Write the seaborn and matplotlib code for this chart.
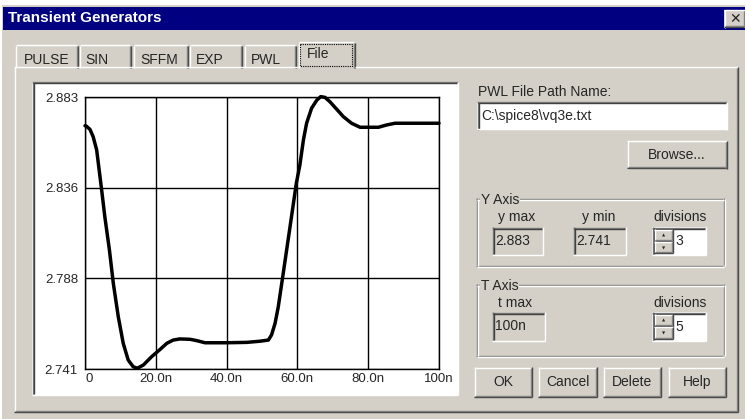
import numpy as np
import pandas as pd
import matplotlib
matplotlib.use('Agg')
import matplotlib.pyplot as plt
import matplotlib.patches as mpatches
import seaborn as sns

# waveform (time in ns, voltage in V)
t_ns = [0, 0.3, 1.4, 2.3, 3.3, 4.0, 4.7, 5.6, 6.9, 8.0, 9.4, 10.8, 12.2, 13.6,
        14.8, 16.5, 18.8, 21.2, 23.1, 24.9, 26.8, 29.7, 31.6, 33.9, 40.0, 45.7,
        49.4, 51.8, 52.7, 53.7, 54.6, 56.0, 57.9, 59.7, 60.7, 61.7, 62.6, 64.0,
        65.5, 66.6, 67.8, 69.2, 71.1, 73.0, 75.3, 77.7, 82.9, 85.2, 87.6, 100]
volts = [2.868, 2.8679, 2.8661, 2.8623, 2.8553, 2.8449, 2.8345, 2.8205, 2.8031,
         2.7857, 2.7683, 2.7544, 2.7457, 2.7422, 2.7414, 2.7431, 2.7474, 2.7512,
         2.7544, 2.7561, 2.7567, 2.7565, 2.7558, 2.7547, 2.7547, 2.7549, 2.7555,
         2.7561, 2.7588, 2.7649, 2.7735, 2.791, 2.815, 2.838, 2.8475, 2.8606,
         2.8693, 2.8771, 2.8814, 2.8832, 2.8828, 2.8805, 2.8766, 2.8727, 2.8693,
         2.8672, 2.8672, 2.8684, 2.8693, 2.8693]

y_ticks = [2.741, 2.7883, 2.8357, 2.883]
y_labels = ['2.741', '2.788', '2.836', '2.883']
x_ticks = [0, 20, 40, 60, 80, 100]
x_labels = ['0', '20.0n', '40.0n', '60.0n', '80.0n', '100n']
tab_names = ['PULSE', 'SIN', 'SFFM', 'EXP', 'PWL', 'File']

df = pd.DataFrame({'t': t_ns, 'v': volts})

sns.set_style('white')
plt.rcParams['font.family'] = ['Liberation Sans', 'DejaVu Sans']

FACE = '#d4d0c8'
SHADOW = '#808080'
DARK = '#404040'
FS = 10

W, H = 745, 419
fig = plt.figure(figsize=(W / 100, H / 100), dpi=100)
fig.patch.set_facecolor('white')

# background axes in pixel coords (y down)
bg = fig.add_axes([0, 0, 1, 1])
bg.set_xlim(0, W)
bg.set_ylim(H, 0)
bg.axis('off')


def rect(x0, y0, x1, y1, color, z=1):
    bg.add_patch(mpatches.Rectangle((x0, y0), x1 - x0, y1 - y0, facecolor=color,
                                    edgecolor='none', zorder=z))


def hline(x0, x1, y, color, z=3):
    bg.plot([x0, x1], [y, y], color=color, lw=1, solid_capstyle='butt', zorder=z)


def vline(x, y0, y1, color, z=3):
    bg.plot([x, x], [y0, y1], color=color, lw=1, solid_capstyle='butt', zorder=z)


def raised(x0, y0, x1, y1, fill=FACE):
    rect(x0, y0, x1, y1, fill, 2)
    hline(x0, x1, y0 + 0.5, 'white'); vline(x0 + 0.5, y0, y1, 'white')
    hline(x0, x1, y1 - 0.5, DARK); vline(x1 - 0.5, y0, y1, DARK)
    hline(x0 + 1, x1 - 1, y1 - 1.5, SHADOW); vline(x1 - 1.5, y0 + 1, y1 - 1, SHADOW)


def sunken(x0, y0, x1, y1, fill='white'):
    rect(x0, y0, x1, y1, fill, 2)
    hline(x0, x1, y0 + 0.5, SHADOW); vline(x0 + 0.5, y0, y1, SHADOW)
    hline(x0 + 1, x1 - 1, y0 + 1.5, DARK); vline(x0 + 1.5, y0 + 1, y1 - 1, DARK)
    hline(x0, x1, y1 - 0.5, 'white'); vline(x1 - 0.5, y0, y1, 'white')


def group(x0, y0, x1, y1, label):
    for off, c in [(0, SHADOW), (1, 'white')]:
        hline(x0 + off, x1 + off, y0 + 0.5 + off, c)
        hline(x0 + off, x1 + off, y1 + 0.5 + off, c)
        vline(x0 + 0.5 + off, y0 + off, y1 + off, c)
        vline(x1 + 0.5 + off, y0 + off, y1 + off, c)
    bg.text(x0 + 5, y0 + 2, label, fontsize=FS, ha='left', va='center', zorder=5,
            bbox=dict(facecolor=FACE, edgecolor='none', pad=0.5))


def text(x, y, s, ha='center', **kw):
    kw.setdefault('fontsize', FS)
    bg.text(x, y, s, ha=ha, va='center', zorder=6, **kw)


# dialog body and title bar
rect(2, 5, W, H, FACE, 0)
rect(3, 7, W, 30, '#000080', 1)
bg.text(8, 18.5, 'Transient Generators', fontsize=11, fontweight='bold', color='white',
        ha='left', va='center', zorder=6)
raised(724, 10, 745, 28)
text(735, 19, '✕', fontweight='bold', family=['DejaVu Sans'])

# tab strip
tab_x = [(15, 78), (79, 131), (133, 188), (189, 242), (244, 296), (298, 355)]
tab_cx = [47, 97, 159, 210, 266, 318]
for i, (name, (a, b)) in enumerate(zip(tab_names, tab_x)):
    top = 42 if name == 'File' else 45
    rect(a, top, b, 68, FACE, 2)
    hline(a + 1, b - 1, top + 0.5, 'white')
    vline(a + 0.5, top + 1, 68, 'white')
    vline(b - 0.5, top + 1, 68, DARK)
    vline(b - 1.5, top + 1, 68, SHADOW)
    text(tab_cx[i], 54 if name == 'File' else 60, name)
bg.add_patch(mpatches.Rectangle((300, 44), 52, 22, fill=False, edgecolor='black',
                                lw=0.8, ls=(0, (1, 1)), zorder=6))

# tab page
hline(14, 298, 67.5, 'white'); hline(355, 738, 67.5, 'white')
vline(14.5, 67, 412, 'white')
hline(14, 738, 411.5, DARK); hline(15, 737, 410.5, SHADOW)
vline(737.5, 67, 412, DARK); vline(736.5, 68, 411, SHADOW)

# chart frame
sunken(32, 82, 458, 395)

# right-hand controls
text(478, 92, 'PWL File Path Name:', ha='left')
sunken(477, 102, 727, 130)
text(481, 116, 'C:\\spice8\\vq3e.txt', ha='left')
raised(627, 141, 727, 169)
text(677, 155, 'Browse...')

group(476, 198, 723, 265, 'Y Axis')
text(517, 217, 'y max')
sunken(492, 227, 543, 255, FACE)
text(495, 241, '2.883', ha='left')
text(599, 217, 'y min')
sunken(573, 227, 626, 255, FACE)
text(576, 241, '2.741', ha='left')

group(476, 284, 723, 355, 'T Axis')
text(515, 303, 't max')
sunken(492, 312, 545, 341, FACE)
text(495, 326, '100n', ha='left')

for yy, val, (y0, y1) in [(217, '3', (227, 255)), (303, '5', (312, 341))]:
    text(680, yy, 'divisions')
    sunken(652, y0, 706, y1)
    mid = (y0 + y1) / 2
    raised(654, y0 + 2, 673, mid)
    raised(654, mid, 673, y1 - 2)
    text(663.5, (y0 + mid) / 2 + 1, '▲', fontsize=3, family=['DejaVu Sans'])
    text(663.5, (mid + y1) / 2, '▼', fontsize=3, family=['DejaVu Sans'])
    text(675, mid, val, ha='left')

for name, (a, b) in zip(['OK', 'Cancel', 'Delete', 'Help'],
                        [(474, 532), (538, 597), (603, 661), (668, 726)]):
    raised(a, 367, b, 397)
    text((a + b) / 2, 382, name)

# the waveform plot
L, R, T, B = 85, 439, 97, 369
ax = fig.add_axes([L / W, 1 - B / H, (R - L) / W, (B - T) / H])
ax.set_facecolor('white')
ax.grid(True, color='black', lw=1)
sns.lineplot(data=df, x='t', y='v', ax=ax, color='black', lw=2.5, zorder=5)
ax.set_xlim(0, 100)
ax.set_ylim(2.741, 2.883)
ax.set_xticks(x_ticks, x_labels, fontsize=9.5)
ax.set_yticks(y_ticks, y_labels, fontsize=9.5)
ax.tick_params(length=0, pad=3)
ax.tick_params(axis='y', pad=5)
ax.get_xticklabels()[0].set_ha('left')
for sp in ax.spines.values():
    sp.set_color('black')
    sp.set_linewidth(1)
ax.set_xlabel('')
ax.set_ylabel('')
for line in ax.lines:
    line.set_clip_on(False)
    line.set_solid_joinstyle('round')

fig.savefig('out.png', dpi=100, facecolor=fig.get_facecolor())
